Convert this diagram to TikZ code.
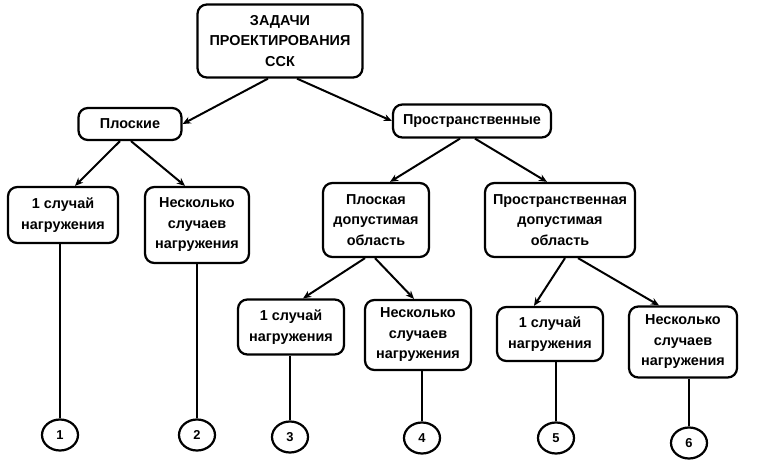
\documentclass[tikz,border=0pt]{standalone}
\usepackage{fontspec}
\setmainfont{Liberation Sans}
\usepackage{tikz}
\usetikzlibrary{positioning,calc,arrows.meta,shapes.geometric}

\begin{document}
\begin{tikzpicture}
    [x=0.03cm,y=-0.03cm,
     >={Stealth[length=7pt,width=6pt]},
     box/.style = {draw,rounded corners=8pt,line width=1.9pt,align=center,
                   inner sep=2pt,font=\fontsize{12.3}{17.5}\selectfont\bfseries},
     leaf/.style = {draw,ellipse,line width=1.9pt,inner sep=0pt,
                    minimum width=1.08cm,minimum height=0.93cm,
                    font=\fontsize{11}{13}\selectfont\bfseries},
     link/.style = {line width=1.7pt}]

    \useasboundingbox (0,0) rectangle (762,461);

    \node[box,minimum width=4.95cm,minimum height=2.19cm] (task) at (280,41)
        {ЗАДАЧИ\\ПРОЕКТИРОВАНИЯ\\ССК};
    \node[box,minimum width=3.09cm,minimum height=0.96cm] (plane) at (130,124) {Плоские};
    \node[box,minimum width=4.74cm,minimum height=0.99cm] (spatial) at (472,121) {Пространственные};

    \node[box,minimum width=3.30cm,minimum height=1.68cm] (p1) at (63,215) {1 случай\\нагружения};
    \node[box,minimum width=3.12cm,minimum height=2.28cm] (p2) at (197,225) {Несколько\\случаев\\нагружения};
    \node[box,minimum width=3.18cm,minimum height=2.22cm] (flat) at (376,220) {Плоская\\допустимая\\область};
    \node[box,minimum width=4.50cm,minimum height=2.22cm] (space) at (560,220) {Пространственная\\допустимая\\область};

    \node[box,minimum width=3.18cm,minimum height=1.65cm] (f1) at (291,327) {1 случай\\нагружения};
    \node[box,minimum width=3.18cm,minimum height=2.10cm] (f2) at (418,335) {Несколько\\случаев\\нагружения};
    \node[box,minimum width=3.18cm,minimum height=1.62cm] (s1) at (550,334) {1 случай\\нагружения};
    \node[box,minimum width=3.24cm,minimum height=2.13cm] (s2) at (683,342) {Несколько\\случаев\\нагружения};

    \node[leaf] (c1) at (60,435) {1};
    \node[leaf] (c2) at (197,435) {2};
    \node[leaf] (c3) at (290,437) {3};
    \node[leaf] (c4) at (422,438) {4};
    \node[leaf] (c5) at (556,438) {5};
    \node[leaf] (c6) at (689,443) {6};

    \path[->,link] ($(task.south)+(-12,0)$) edge (plane.east);
    \path[->,link] ($(task.south)+(17,0)$) edge (spatial.west);
    \path[->,link] ($(plane.south)+(-10,0)$) edge ($(p1.north)+(12,0)$);
    \path[->,link] ($(plane.south)+(1,0)$) edge ($(p2.north)+(-12,0)$);
    \path[->,link] ($(spatial.south)+(-12,0)$) edge ($(flat.north)+(14,0)$);
    \path[->,link] ($(spatial.south)+(3,0)$) edge ($(space.north)+(-13,0)$);
    \path[->,link] ($(flat.south)+(-11,0)$) edge ($(f1.north)+(12,0)$);
    \path[->,link] ($(flat.south)+(-1,0)$) edge ($(f2.north)+(-4,0)$);
    \path[->,link] ($(space.south)+(5,0)$) edge ($(s1.north)+(-16,0)$);
    \path[->,link] ($(space.south)+(18,0)$) edge ($(s2.north)+(-24,0)$);

    \draw[link] (c1) -- (c1 |- p1.south);
    \draw[link] (c2) -- (c2 |- p2.south);
    \draw[link] (c3) -- (c3 |- f1.south);
    \draw[link] (c4) -- (c4 |- f2.south);
    \draw[link] (c5) -- (c5 |- s1.south);
    \draw[link] (c6) -- (c6 |- s2.south);

\end{tikzpicture}
\end{document}
